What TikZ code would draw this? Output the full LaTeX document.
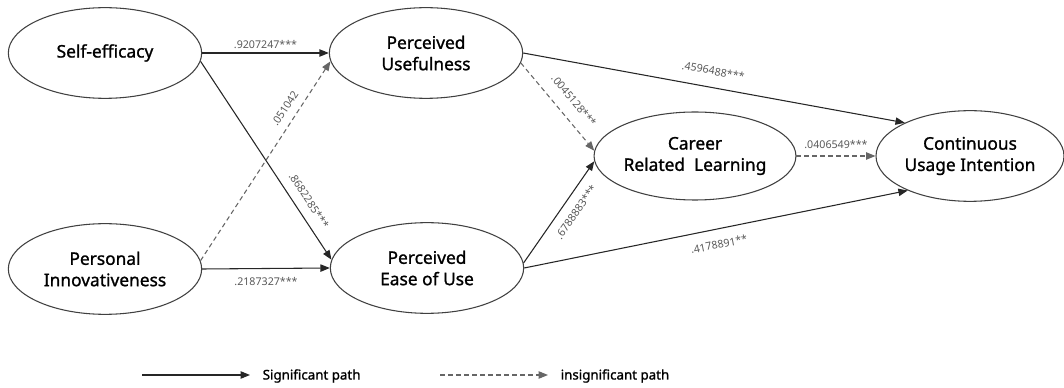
\documentclass[tikz,border=0pt]{standalone}
\usepackage{fontspec}
\setmainfont{Noto Sans}
\newfontfamily\heavyfont[FakeBold=1.2]{Noto Sans}
\usetikzlibrary{arrows.meta,shapes.geometric}
\begin{document}
\begin{tikzpicture}[x=0.75pt,y=-0.75pt,
  construct/.style={ellipse,draw=black!75,line width=0.8pt,inner sep=0pt,align=center,
    minimum width=145pt,minimum height=68pt,font=\heavyfont\fontsize{13}{16}\selectfont},
  sig/.style={draw=black!85,line width=0.8pt,-{Triangle[length=7pt,width=5.5pt]}},
  insig/.style={sig,draw=black!60,dash pattern=on 3.5pt off 2.5pt},
  coef/.style={font=\fontsize{8}{9}\selectfont,text=black!65,inner sep=1pt},
  keytext/.style={anchor=west,font=\heavyfont\fontsize{10}{12}\selectfont}]
\useasboundingbox (0,0) rectangle (1064,388);
% constructs
\node[construct] (se) at (105,53) {Self-efficacy};
\node[construct] (pu) at (426,53) {Perceived\\Usefulness};
\node[construct] (pi) at (105,269) {Personal\\Innovativeness};
\node[construct] (peou) at (427,268) {Perceived\\Ease of Use};
\node[construct,minimum height=66pt] (crl) at (695,156) {Career\\Related~~Learning};
\node[construct,minimum width=141pt] (cui) at (970,156) {Continuous\\Usage Intention};
% paths
\draw[sig] (se.east) -- node[coef,above=2pt] {.9207247***} (pu.west);
\draw[sig] (se.-5) -- node[coef,sloped,pos=.74,above=6pt] {.8682285***} (peou.175);
\draw[insig] (pi.5) -- node[coef,sloped,pos=.73,above=5pt] {.051042} (pu.185);
\draw[sig] (pi.east) -- node[coef,below=5pt] {.2187327***} (peou.west);
\draw[insig] (pu.-6) -- node[coef,sloped,pos=.55,above=8pt] {.0045128***} (crl.177);
\draw[sig] (peou.3) -- node[coef,sloped,pos=.58,below=6pt] {.6788883***} (crl.183);
\draw[sig] (pu.east) -- node[coef,sloped,pos=.49,above=8pt] {.4596488***} (cui.153);
\draw[sig] (peou.east) -- node[coef,sloped,pos=.5,below=7pt] {.4178891**} (cui.209);
\draw[insig] (crl.east) -- node[coef,above=4pt] {.0406549***} (cui.west);
% legend
\coordinate (s1) at (142,375);
\coordinate (s2) at (250,375);
\coordinate (d1) at (440,375);
\coordinate (d2) at (548,375);
\draw[sig] (s1) -- (s2);
\draw[insig] (d1) -- (d2);
\node[keytext] (sigtxt) at (258,376) {Significant path};
\node[keytext] (insigtxt) at (556,376) {insignificant path};
\end{tikzpicture}
\end{document}
